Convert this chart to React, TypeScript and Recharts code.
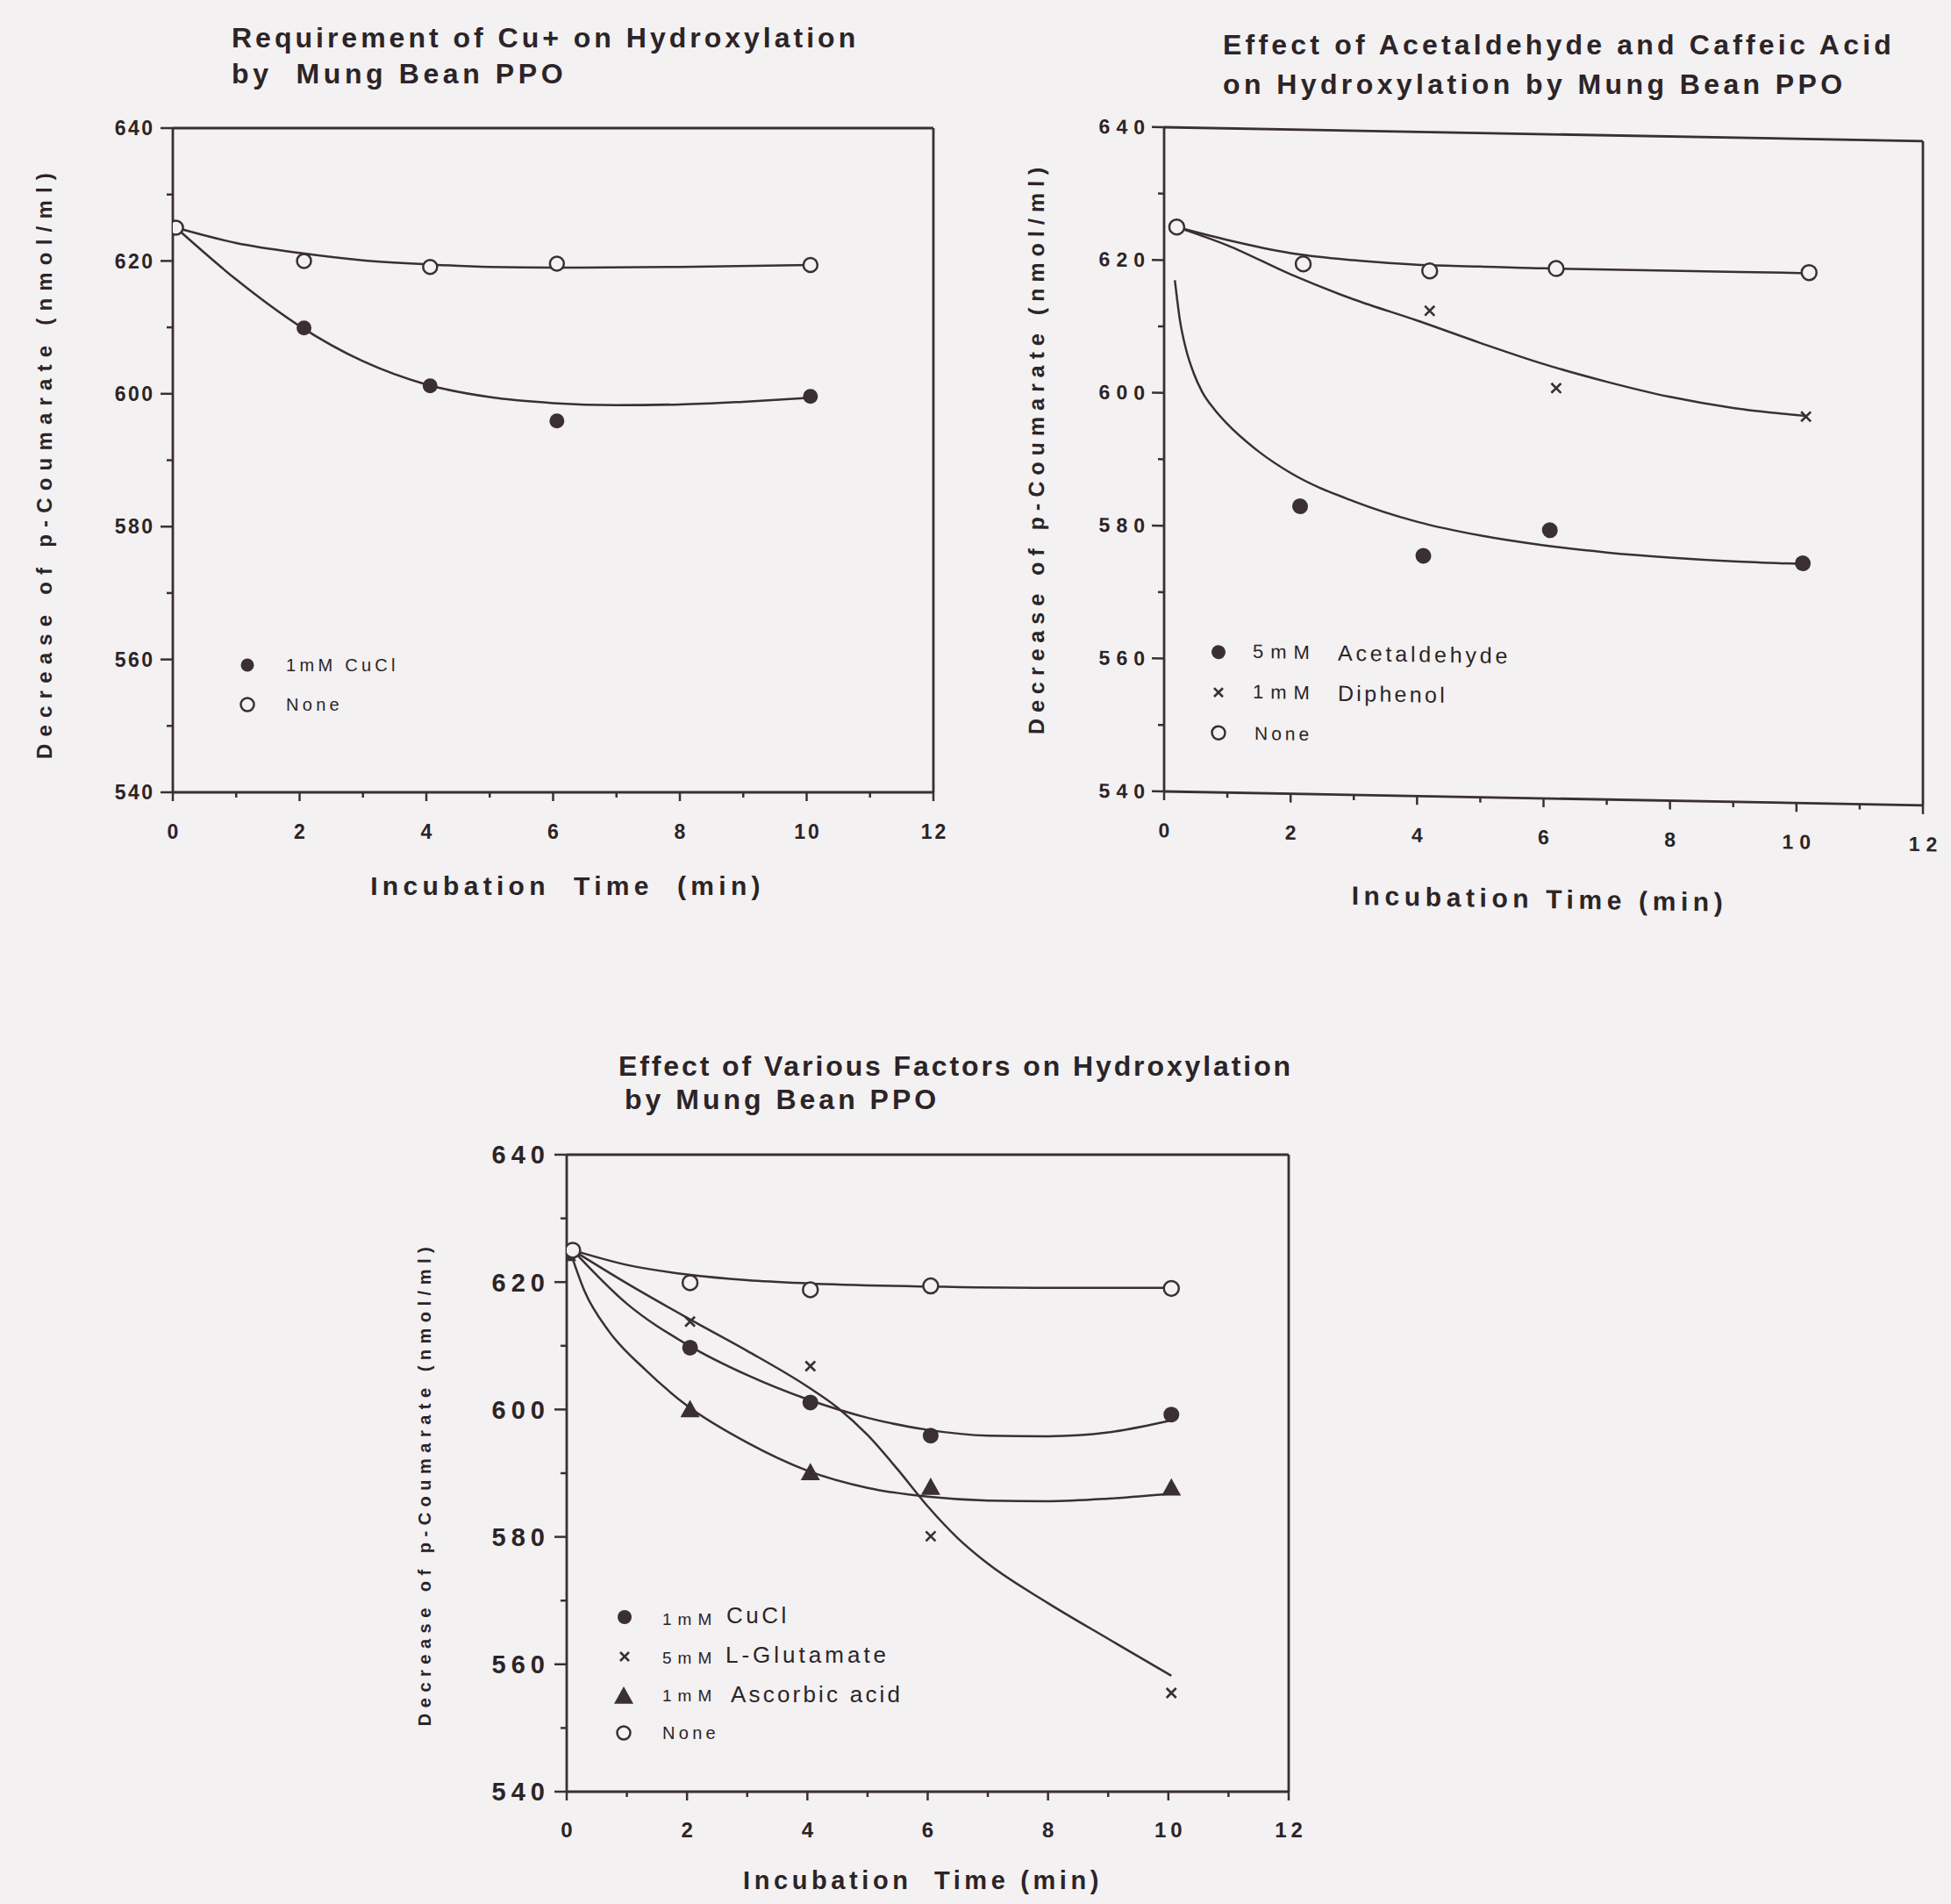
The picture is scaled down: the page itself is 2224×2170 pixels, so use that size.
import React from 'react';
import { ComposedChart, Line, Scatter, XAxis, YAxis, ReferenceLine } from 'recharts';

const INK = '#3a2f33';
const TXT = '#2c2427';
const BG = '#f3f1f2';
const FONT = '"Liberation Sans", Arial, Helvetica, sans-serif';

// ---------- shared axis ticks ----------
const xTicks = [0, 1, 2, 3, 4, 5, 6, 7, 8, 9, 10, 11, 12];
const yTicks = [540, 550, 560, 570, 580, 590, 600, 610, 620, 630, 640];

// ---------- Panel A: Requirement of Cu+ ----------
const aNoneX = [0.05, 2.07, 4.06, 6.06, 10.06];
const aNoneY = [625, 620, 619.1, 619.6, 619.4];
const aCuClX = [2.07, 4.06, 6.06, 10.06];
const aCuClY = [609.9, 601.2, 595.9, 599.6];
const aFitCuClX = [0.05, 1, 2, 3, 4, 5, 6, 7, 8, 9, 10.06];
const aFitCuClY = [625, 617.2, 610.2, 604.9, 601.4, 599.5, 598.6, 598.3, 598.4, 598.8, 599.4];
const aFitNoneX = [0.05, 1, 2, 3, 4, 5, 6, 8, 10.06];
const aFitNoneY = [625, 622.7, 621.2, 620.1, 619.5, 619.1, 619.0, 619.1, 619.4];

// ---------- Panel B: Acetaldehyde and Caffeic Acid ----------
const bNoneX = [0.2, 2.2, 4.2, 6.2, 10.2];
const bNoneY = [625, 619.8, 619.1, 619.8, 619.9];
const bDiphX = [4.2, 6.2, 10.15];
const bDiphY = [613.1, 601.8, 598.2];
const bAcetX = [2.15, 4.1, 6.1, 10.1];
const bAcetY = [583.3, 576.2, 580.4, 576.1];
const bFitNoneX = [0.2, 1, 2, 3, 4, 5, 6, 8, 10.2];
const bFitNoneY = [625, 623.2, 621.4, 620.5, 620.0, 619.9, 619.8, 619.8, 619.8];
const bFitDiphX = [0.2, 1, 2, 3, 4, 5, 6, 7, 8, 9, 10.15];
const bFitDiphY = [625, 622.4, 618.2, 614.6, 611.6, 608.4, 605.4, 602.9, 600.8, 599.3, 598.3];
const bFitAcetX = [0.17, 0.25, 0.35, 0.47, 0.6, 0.8, 1, 1.5, 2, 3, 4, 5, 6, 7, 8, 9, 10.1];
const bFitAcetY = [617, 611, 606.5, 603, 600.3, 597.6, 595.5, 591.4, 588.3, 584.2, 581.3, 579.4, 578.1, 577.2, 576.6, 576.2, 576.0];

// ---------- Panel C: Various Factors ----------
const cNoneX = [0.1, 2.05, 4.05, 6.05, 10.05];
const cNoneY = [625, 619.9, 618.8, 619.4, 619.0];
const cCuClX = [2.05, 4.05, 6.05, 10.05];
const cCuClY = [609.7, 601.1, 595.9, 599.2];
const cGluX = [2.05, 4.05, 6.05, 10.05];
const cGluY = [613.8, 606.8, 580.1, 555.5];
const cAscX = [0.0, 2.05, 4.05, 6.05, 10.05];
const cAscY = [624.5, 600, 590.1, 587.8, 587.7];
const cFitNoneX = [0.1, 1, 2, 3, 4, 6, 8, 10.05];
const cFitNoneY = [625, 622.7, 621.2, 620.3, 619.8, 619.3, 619.1, 619.1];
const cFitCuClX = [0.1, 1, 2, 3, 4, 5, 6, 7, 8, 9, 10.05];
const cFitCuClY = [625, 616.6, 610.2, 605.4, 601.6, 598.7, 596.8, 595.9, 595.8, 596.4, 598.3];
const cFitGluX = [0.1, 1, 2, 3, 4, 4.5, 5, 5.5, 6, 6.5, 7, 8, 9, 10.05];
const cFitGluY = [625, 619.8, 614.4, 609.2, 603.6, 600.3, 596.0, 590.6, 584.8, 579.8, 575.8, 569.6, 564.0, 558.2];
const cFitAscX = [0.05, 0.3, 0.7, 1.3, 2, 3, 4, 5, 6, 7, 8, 9, 10.05];
const cFitAscY = [625, 618.5, 612.3, 606.3, 600.6, 594.8, 590.4, 587.7, 586.3, 585.7, 585.6, 586.0, 586.8];

type P = { x: number; y: number };
const pts = (xs: number[], ys: number[]): P[] => xs.map((x, i) => ({ x, y: ys[i] }));

// ---------- marker shapes ----------
type Kind = 'filled' | 'hollow' | 'cross' | 'tri';
const drawMark = (kind: Kind, s: number, cx: number, cy: number) => {
  if (kind === 'filled') return <circle cx={cx} cy={cy} r={s} fill={INK} />;
  if (kind === 'hollow') return <circle cx={cx} cy={cy} r={s} fill={BG} stroke={INK} strokeWidth={2.5} />;
  if (kind === 'cross')
    return (
      <path
        d={`M${cx - s},${cy - s}L${cx + s},${cy + s}M${cx - s},${cy + s}L${cx + s},${cy - s}`}
        stroke={INK}
        strokeWidth={2.6}
        fill="none"
      />
    );
  return <path d={`M${cx},${cy - s}L${cx + s},${cy + s * 0.8}L${cx - s},${cy + s * 0.8}Z`} fill={INK} />;
};
const shapeOf = (kind: Kind, s: number) => (p: any) => drawMark(kind, s, p.cx, p.cy);

// ---------- text helpers ----------
const Txt = ({ left, cy, fs, ls, bold, children }: any) => (
  <div
    style={{
      position: 'absolute',
      left,
      top: cy - fs / 2,
      fontSize: fs,
      lineHeight: `${fs}px`,
      letterSpacing: ls,
      fontWeight: bold ? 'bold' : 'normal',
      whiteSpace: 'pre',
      fontFamily: FONT,
      color: TXT,
    }}
  >
    {children}
  </div>
);
const CTxt = ({ cx, cy, fs, ls, rotate, children }: any) => (
  <div
    style={{
      position: 'absolute',
      left: cx,
      top: cy,
      fontSize: fs,
      lineHeight: `${fs}px`,
      letterSpacing: ls,
      fontWeight: 'bold',
      whiteSpace: 'pre',
      fontFamily: FONT,
      color: TXT,
      transform: `translate(-50%, -50%)${rotate ? ' rotate(-90deg)' : ''}`,
    }}
  >
    {children}
  </div>
);
const LegendMark = ({ kind, s, cx, cy }: any) => (
  <svg width={40} height={40} style={{ position: 'absolute', left: cx - 20, top: cy - 20 }}>
    {drawMark(kind, s, 20, 20)}
  </svg>
);

// ---------- chart panel ----------
interface Box { left: number; top: number; width: number; height: number }
interface Fit { key: string; data: P[] }
interface Mark { key: string; data: P[]; kind: Kind; size: number }

function Panel(props: {
  box: Box; xFs: number; xLs: number; xOff: number; yFs: number; yLs: number; yGap: number;
  fits: Fit[]; marks: Mark[];
}) {
  const { box, xFs, xLs, xOff, yFs, yLs, yGap, fits, marks } = props;
  const padL = 130, padT = 20, padR = 50, padB = 90;
  const W = box.width + padL + padR;
  const H = box.height + padT + padB;
  const xTick = (p: any) => {
    const v = p.payload.value;
    const major = v % 2 === 0;
    return (
      <g>
        <line x1={p.x} x2={p.x} y1={p.y} y2={p.y + (major ? 10 : 6)} stroke={INK} strokeWidth={2.5} />
        {major && (
          <text x={p.x + xLs / 2} y={p.y + xOff + 0.36 * xFs} textAnchor="middle" fontSize={xFs}
            fontWeight="bold" letterSpacing={xLs} fill={TXT} fontFamily={FONT}>
            {v}
          </text>
        )}
      </g>
    );
  };
  const yTick = (p: any) => {
    const v = p.payload.value;
    const major = v % 20 === 0;
    return (
      <g>
        <line x1={p.x} x2={p.x - (major ? 14 : 7)} y1={p.y} y2={p.y} stroke={INK} strokeWidth={2.5} />
        {major && (
          <text x={p.x - yGap + yLs} y={p.y + 0.36 * yFs} textAnchor="end" fontSize={yFs}
            fontWeight="bold" letterSpacing={yLs} fill={TXT} fontFamily={FONT}>
            {v}
          </text>
        )}
      </g>
    );
  };
  return (
    <div style={{ position: 'absolute', left: box.left - padL, top: box.top - padT, width: W, height: H }}>
      <ComposedChart width={W} height={H} margin={{ top: padT, right: padR, bottom: 0, left: 0 }}>
        <XAxis type="number" dataKey="x" domain={[0, 12]} ticks={xTicks} interval={0} height={padB}
          tickSize={0} tickMargin={0} tickLine={false} tick={xTick}
          axisLine={{ stroke: INK, strokeWidth: 2.8 }} allowDataOverflow />
        <YAxis type="number" dataKey="y" domain={[540, 640]} ticks={yTicks} interval={0} width={padL}
          tickSize={0} tickMargin={0} tickLine={false} tick={yTick}
          axisLine={{ stroke: INK, strokeWidth: 2.8 }} allowDataOverflow />
        <ReferenceLine y={640} stroke={INK} strokeWidth={2.8} />
        <ReferenceLine x={12} stroke={INK} strokeWidth={2.8} />
        {fits.map((f) => (
          <Line key={f.key} data={f.data} dataKey="y" type="monotone" dot={false} activeDot={false}
            stroke={INK} strokeWidth={2.5} isAnimationActive={false} />
        ))}
        {marks.map((m) => (
          <Scatter key={m.key} data={m.data} dataKey="y" shape={shapeOf(m.kind, m.size)} isAnimationActive={false} />
        ))}
      </ComposedChart>
    </div>
  );
}

export default function App() {
  return (
    <div style={{ position: 'absolute', left: 0, top: 0, width: 2224, height: 2170, background: BG, overflow: 'hidden' }}>
      {/* ---------- Panel A ---------- */}
      <Txt left={264} cy={43} fs={32} ls={4.0} bold>Requirement of Cu+ on Hydroxylation</Txt>
      <Txt left={264} cy={84} fs={32} ls={4.6} bold>by  Mung Bean PPO</Txt>
      <CTxt cx={51} cy={527} fs={24} ls={8.2} rotate>Decrease of p-Coumarate (nmol/ml)</CTxt>
      <CTxt cx={647} cy={1010} fs={30} ls={5.3}>Incubation  Time  (min)</CTxt>
      <Panel
        box={{ left: 197, top: 146, width: 867, height: 757 }}
        xFs={23} xLs={3} xOff={45} yFs={23} yLs={2.5} yGap={23}
        fits={[
          { key: 'aFitCuCl', data: pts(aFitCuClX, aFitCuClY) },
          { key: 'aFitNone', data: pts(aFitNoneX, aFitNoneY) },
        ]}
        marks={[
          { key: 'aCuCl', data: pts(aCuClX, aCuClY), kind: 'filled', size: 8.5 },
          { key: 'aNone', data: pts(aNoneX, aNoneY), kind: 'hollow', size: 8 },
        ]}
      />
      <LegendMark kind="filled" s={7.5} cx={282} cy={758} />
      <Txt left={326} cy={758} fs={20} ls={4.3}>1mM CuCl</Txt>
      <LegendMark kind="hollow" s={7.5} cx={282} cy={803} />
      <Txt left={326} cy={803} fs={20} ls={4.3}>None</Txt>

      {/* ---------- Panel B titles (kept level) ---------- */}
      <Txt left={1394} cy={51} fs={32} ls={4.2} bold>Effect of Acetaldehyde and Caffeic Acid</Txt>
      <Txt left={1394} cy={96} fs={32} ls={4.4} bold>on Hydroxylation by Mung Bean PPO</Txt>

      {/* ---------- Panel B (page slightly skewed in scan) ---------- */}
      <div style={{ position: 'absolute', left: 0, top: 0, width: 2224, height: 2170, transform: 'skewY(1.05deg)', transformOrigin: '1327px 145px' }}>
        <CTxt cx={1181} cy={513} fs={25} ls={7} rotate>Decrease of p-Coumarate (nmol/ml)</CTxt>
        <CTxt cx={1755} cy={1017} fs={30} ls={5.6}>Incubation Time (min)</CTxt>
        <Panel
          box={{ left: 1327, top: 145, width: 865, height: 757 }}
          xFs={23} xLs={7} xOff={44} yFs={23} yLs={7} yGap={22}
          fits={[
            { key: 'bFitNone', data: pts(bFitNoneX, bFitNoneY) },
            { key: 'bFitDiph', data: pts(bFitDiphX, bFitDiphY) },
            { key: 'bFitAcet', data: pts(bFitAcetX, bFitAcetY) },
          ]}
          marks={[
            { key: 'bAcet', data: pts(bAcetX, bAcetY), kind: 'filled', size: 9 },
            { key: 'bDiph', data: pts(bDiphX, bDiphY), kind: 'cross', size: 5.5 },
            { key: 'bNone', data: pts(bNoneX, bNoneY), kind: 'hollow', size: 8.5 },
          ]}
        />
        <LegendMark kind="filled" s={8} cx={1389} cy={742} />
        <Txt left={1428} cy={741} fs={22} ls={8}>5mM</Txt>
        <Txt left={1525} cy={740} fs={25} ls={3.8}>Acetaldehyde</Txt>
        <LegendMark kind="cross" s={5} cx={1389} cy={788} />
        <Txt left={1428} cy={787} fs={22} ls={8}>1mM</Txt>
        <Txt left={1525} cy={786} fs={25} ls={3.3}>Diphenol</Txt>
        <LegendMark kind="hollow" s={7.5} cx={1389} cy={834} />
        <Txt left={1430} cy={833} fs={21} ls={4}>None</Txt>
      </div>

      {/* ---------- Panel C ---------- */}
      <Txt left={705} cy={1215} fs={32} ls={2.9} bold>Effect of Various Factors on Hydroxylation</Txt>
      <Txt left={712} cy={1253} fs={32} ls={4.0} bold>by Mung Bean PPO</Txt>
      <CTxt cx={484} cy={1691} fs={20} ls={6.5} rotate>Decrease of p-Coumarate (nmol/ml)</CTxt>
      <CTxt cx={1052} cy={2143} fs={29} ls={4.6}>Incubation  Time (min)</CTxt>
      <Panel
        box={{ left: 646, top: 1316, width: 823, height: 726 }}
        xFs={24} xLs={5} xOff={43} yFs={29} yLs={6} yGap={25}
        fits={[
          { key: 'cFitNone', data: pts(cFitNoneX, cFitNoneY) },
          { key: 'cFitCuCl', data: pts(cFitCuClX, cFitCuClY) },
          { key: 'cFitGlu', data: pts(cFitGluX, cFitGluY) },
          { key: 'cFitAsc', data: pts(cFitAscX, cFitAscY) },
        ]}
        marks={[
          { key: 'cAsc', data: pts(cAscX, cAscY), kind: 'tri', size: 11 },
          { key: 'cCuCl', data: pts(cCuClX, cCuClY), kind: 'filled', size: 9 },
          { key: 'cGlu', data: pts(cGluX, cGluY), kind: 'cross', size: 5.5 },
          { key: 'cNone', data: pts(cNoneX, cNoneY), kind: 'hollow', size: 8.5 },
        ]}
      />
      <LegendMark kind="filled" s={8} cx={712} cy={1843} />
      <Txt left={755} cy={1845} fs={19} ls={7}>1mM</Txt>
      <Txt left={828} cy={1841} fs={26} ls={3.5}>CuCl</Txt>
      <LegendMark kind="cross" s={5} cx={712} cy={1888} />
      <Txt left={755} cy={1889} fs={19} ls={7}>5mM</Txt>
      <Txt left={827} cy={1886} fs={26} ls={4}>L-Glutamate</Txt>
      <LegendMark kind="tri" s={11} cx={711} cy={1933} />
      <Txt left={755} cy={1932} fs={19} ls={7}>1mM</Txt>
      <Txt left={833} cy={1931} fs={26} ls={3.2}>Ascorbic acid</Txt>
      <LegendMark kind="hollow" s={7.5} cx={711} cy={1975} />
      <Txt left={755} cy={1975} fs={20} ls={4.3}>None</Txt>
    </div>
  );
}
